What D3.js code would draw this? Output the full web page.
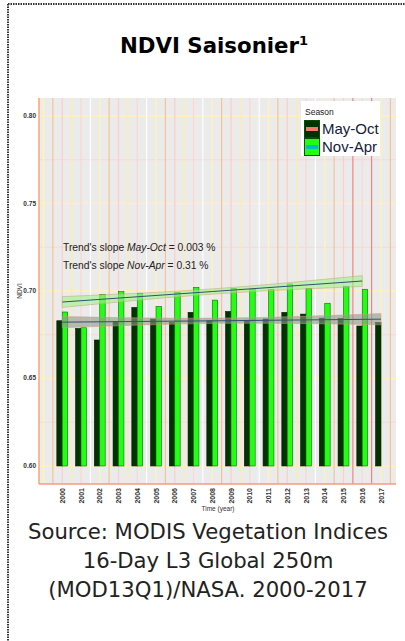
<!DOCTYPE html>
<html>
<head>
<meta charset="utf-8">
<script src="https://cdn.jsdelivr.net/npm/d3@7"></script>
<style>
  body { margin: 0; background: #fff; }
  svg { display: block; }
</style>
</head>
<body>
<svg id="chart" width="405" height="641"></svg>
<script>
// seasonal NDVI
const years = [2000, 2001, 2002, 2003, 2004, 2005, 2006, 2007, 2008,
  2009, 2010, 2011, 2012, 2013, 2014, 2015, 2016, 2017];
const ndviMayOct = [0.683, 0.6786, 0.672, 0.6826, 0.6906, 0.684, 0.682, 0.6878, 0.683,
  0.6883, 0.6833, 0.684, 0.6878, 0.6868, 0.6845, 0.6843, 0.680, 0.682];
const ndviNovApr = [0.688, 0.679, 0.698, 0.6996, 0.6987, 0.6912, 0.6992, 0.702, 0.6948,
  0.7015, 0.7011, 0.701, 0.704, 0.7015, 0.693, 0.7027, 0.701, null];

// trend lines (start, middle, end) with confidence half-width
const trendNovAprYears = [2000, 2008, 2016];
const trendNovApr = [0.6937, 0.6997, 0.7057];
const ciNovApr = [0.0031, 0.0015, 0.0031];
const trendMayOctYears = [2000, 2008.5, 2017];
const trendMayOct = [0.6822, 0.6830, 0.6839];
const ciMayOct = [0.0032, 0.0015, 0.0032];

const yTicks = [0.60, 0.65, 0.70, 0.75, 0.80];
const seasons = ["May-Oct", "Nov-Apr"];
const trendLabels = ["0.003 %", "0.31 %"];
const sourceLines = ["Source: MODIS Vegetation Indices", "16-Day L3 Global 250m", "(MOD13Q1)/NASA. 2000-2017"];

const darkGreen = "#013300";
const brightGreen = "#22ff10";

const svg = d3.select("#chart");

// dotted frame on top and left
svg.append("line").attr("x1", 8).attr("x2", 405).attr("y1", 4).attr("y2", 4)
  .attr("stroke", "#333").attr("stroke-width", 2).attr("stroke-dasharray", "1.5,1");
svg.append("line").attr("x1", 8).attr("x2", 8).attr("y1", 4).attr("y2", 641)
  .attr("stroke", "#333").attr("stroke-width", 2).attr("stroke-dasharray", "1.5,1");

// title
const title = svg.append("text")
  .attr("x", 120).attr("y", 53)
  .attr("font-family", "DejaVu Sans").attr("font-weight", "bold")
  .attr("font-size", 21.3).attr("fill", "#000");
title.append("tspan").text("NDVI Saisonier");
title.append("tspan").attr("font-size", 13).attr("dy", -8).text("1");

// panel
const pLeft = 39, pRight = 396, pTop = 98, pBottom = 484;
const x = d3.scaleLinear().domain([1998.76, 2017.8]).range([pLeft, pRight]);
const y = d3.scaleLinear().domain([0.5897, 0.8103]).range([pBottom, pTop]);

svg.append("rect").attr("x", pLeft).attr("y", pTop)
  .attr("width", pRight - pLeft).attr("height", pBottom - pTop).attr("fill", "#ebebeb");

// horizontal grid
const minorY = d3.range(0.625, 0.8, 0.05);
svg.append("g").selectAll("line").data(minorY).join("line")
  .attr("x1", pLeft).attr("x2", pRight)
  .attr("y1", d => y(d)).attr("y2", d => y(d))
  .attr("stroke", "#fbd6d0").attr("stroke-width", 0.9);
svg.append("g").selectAll("line").data(yTicks).join("line")
  .attr("x1", pLeft).attr("x2", pRight)
  .attr("y1", d => y(d)).attr("y2", d => y(d))
  .attr("stroke", "#fff1b8").attr("stroke-width", 1.3);

// vertical grid, every half year
const gridPalette = ["#fff3b8", "#f7bf8c", "#fbd0c8", "#ffee9e", "#fbd8d2", "#ffffff"];
const gridX = d3.range(1999, 2017.6, 0.5);
svg.append("g").selectAll("line").data(gridX).join("line")
  .attr("x1", d => x(d)).attr("x2", d => x(d))
  .attr("y1", pTop).attr("y2", pBottom)
  .attr("stroke", (d, i) => (d === 2015.5 || d === 2016.5) ? "#f27d72" : gridPalette[i % gridPalette.length])
  .attr("stroke-width", (d, i) => i % 2 === 0 ? 1.3 : 1.1);

// panel edges
svg.append("line").attr("x1", pLeft).attr("x2", pLeft).attr("y1", pTop).attr("y2", pBottom)
  .attr("stroke", "#f5a870").attr("stroke-width", 1.5);
svg.append("line").attr("x1", pLeft).attr("x2", pRight).attr("y1", pBottom).attr("y2", pBottom)
  .attr("stroke", "#f49a86").attr("stroke-width", 1.3);

// bars
const barW = 0.29;
const base = y(0.60);
const gBars = svg.append("g");
gBars.selectAll("rect.mo").data(years).join("rect")
  .attr("class", "mo")
  .attr("x", d => x(d - barW)).attr("width", x(barW) - x(0))
  .attr("y", (d, i) => y(ndviMayOct[i]))
  .attr("height", (d, i) => base - y(ndviMayOct[i]))
  .attr("fill", darkGreen).attr("stroke", "#0a1a05").attr("stroke-width", 0.6);
gBars.selectAll("rect.na").data(years.filter((d, i) => ndviNovApr[i] != null)).join("rect")
  .attr("class", "na")
  .attr("x", d => x(d)).attr("width", x(barW) - x(0))
  .attr("y", (d, i) => y(ndviNovApr[i]))
  .attr("height", (d, i) => base - y(ndviNovApr[i]))
  .attr("fill", brightGreen).attr("stroke", "#0b6a10").attr("stroke-width", 0.6);

// trend ribbons and lines
function trend(yrs, fit, ci, fill) {
  const pts = yrs.map((d, i) => ({ yr: d, v: fit[i], c: ci[i] }));
  svg.append("path").datum(pts)
    .attr("d", d3.area().curve(d3.curveNatural)
      .x(d => x(d.yr)).y0(d => y(d.v - d.c)).y1(d => y(d.v + d.c)))
    .attr("fill", fill).attr("fill-opacity", 0.6)
    .attr("stroke", "#c9a07a").attr("stroke-width", 0.5);
  svg.append("path").datum(pts)
    .attr("d", d3.line().x(d => x(d.yr)).y(d => y(d.v)))
    .attr("fill", "none").attr("stroke", "#34506e").attr("stroke-width", 1);
}
trend(trendMayOctYears, trendMayOct, ciMayOct, "#8f9a8c");
trend(trendNovAprYears, trendNovApr, ciNovApr, "#9cf28c");

// trend text
const tt = svg.append("g").attr("font-family", "Liberation Sans").attr("font-size", 10.3).attr("fill", "#222");
seasons.forEach((s, i) => {
  const t = tt.append("text").attr("x", 63).attr("y", 251 + i * 18);
  t.append("tspan").text("Trend's slope ");
  t.append("tspan").attr("font-style", "italic").text(s);
  t.append("tspan").text(" = " + trendLabels[i]);
});

// y axis
svg.append("g").selectAll("text").data(yTicks).join("text")
  .attr("x", 36).attr("y", d => y(d) + 2)
  .attr("text-anchor", "end")
  .attr("font-family", "Liberation Sans").attr("font-weight", "bold")
  .attr("font-size", 6.5).attr("fill", "#333")
  .text(d => d3.format(".2f")(d));
svg.append("text").attr("transform", "translate(22," + y(0.70) + ") rotate(-90)")
  .attr("text-anchor", "middle")
  .attr("font-family", "Liberation Sans").attr("font-size", 6.5).attr("fill", "#333")
  .text("NDVI");

// x axis
svg.append("g").selectAll("text").data(years).join("text")
  .attr("transform", d => "translate(" + (x(d) + 2.5) + ",488) rotate(-90)")
  .attr("text-anchor", "end")
  .attr("font-family", "Liberation Sans").attr("font-weight", "bold")
  .attr("font-size", 7).attr("fill", "#333")
  .text(d => d);
svg.append("text").attr("x", 218).attr("y", 511)
  .attr("text-anchor", "middle")
  .attr("font-family", "Liberation Sans").attr("font-size", 6.5).attr("fill", "#333")
  .text("Time (year)");

// legend
const lg = svg.append("g");
lg.append("rect").attr("x", 301).attr("y", 101).attr("width", 79).attr("height", 55).attr("fill", "#fff");
lg.append("text").attr("x", 305).attr("y", 115)
  .attr("font-family", "Liberation Sans").attr("font-size", 8.5).attr("fill", "#222")
  .text("Season");
const keyFill = [darkGreen, brightGreen];
const keyLine = ["#f8766d", "#00bfc4"];
seasons.forEach((s, i) => {
  const ky = 120 + i * 18;
  lg.append("rect").attr("x", 304.5).attr("y", ky + 0.5).attr("width", 15).attr("height", 17)
    .attr("fill", keyFill[i]).attr("stroke", "#0b4a08").attr("stroke-width", 1);
  lg.append("line").attr("x1", 306).attr("x2", 318).attr("y1", ky + 9).attr("y2", ky + 9)
    .attr("stroke", keyLine[i]).attr("stroke-width", 4);
  lg.append("text").attr("x", 322).attr("y", ky + 14)
    .attr("font-family", "Liberation Sans").attr("font-size", 15).attr("fill", "#14213d")
    .text(s);
});

// source
svg.append("g").selectAll("text").data(sourceLines).join("text")
  .attr("x", 208).attr("y", (d, i) => 539 + i * 29)
  .attr("text-anchor", "middle")
  .attr("font-family", "DejaVu Sans").attr("font-size", 21.2)
  .attr("fill", "#222")
  .text(d => d);
</script>
</body>
</html>
